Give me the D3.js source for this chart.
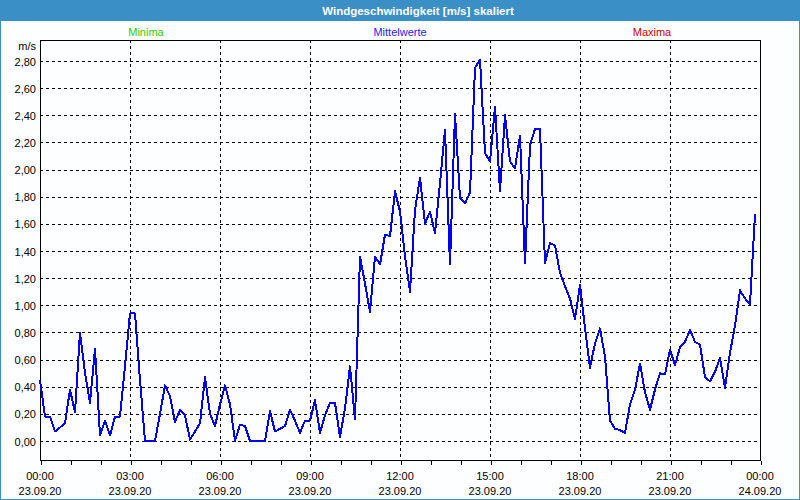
<!DOCTYPE html>
<html>
<head>
<meta charset="utf-8">
<script src="https://cdn.jsdelivr.net/npm/d3@7"></script>
<style>
  html, body { margin: 0; padding: 0; background: #fff; }
  svg { display: block; }
  text { font-family: "Liberation Sans", Arial, sans-serif; }
</style>
</head>
<body>
<svg id="chart" width="800" height="500"></svg>
<script>
// ---- Data (10-minute mean wind speed, m/s, 23.09.20 00:00 .. 23:50) ----
const stepMinutes = 10;
const meanValues = [
  0.45,0.18,0.18,0.07,0.10,0.13,
  0.38,0.21,0.80,0.50,0.28,0.68,
  0.04,0.15,0.04,0.18,0.18,0.55,
  0.94,0.94,0.45,0.00,0.00,0.00,
  0.20,0.41,0.33,0.14,0.23,0.19,
  0.01,0.07,0.13,0.47,0.20,0.11,
  0.27,0.41,0.27,0.00,0.12,0.11,
  0.00,0.00,0.00,0.00,0.22,0.07,
  0.09,0.11,0.23,0.15,0.06,0.15,
  0.15,0.30,0.06,0.19,0.28,0.28,
  0.03,0.24,0.55,0.16,1.36,1.16,
  0.95,1.36,1.30,1.52,1.51,1.84,
  1.69,1.36,1.10,1.70,1.94,1.60,
  1.69,1.53,1.90,2.29,1.30,2.41,
  1.79,1.75,1.83,2.75,2.81,2.12,
  2.06,2.46,1.84,2.40,2.06,2.01,
  2.25,1.31,2.18,2.30,2.30,1.31,
  1.46,1.44,1.24,1.14,1.05,0.90,
  1.15,0.83,0.54,0.72,0.83,0.62,
  0.15,0.09,0.08,0.06,0.27,0.38,
  0.57,0.36,0.23,0.38,0.50,0.49,
  0.67,0.56,0.69,0.73,0.82,0.73,
  0.71,0.47,0.44,0.51,0.61,0.39,
  0.65,0.85,1.11,1.05,1.01,1.67
];
const yTicks = [0,0.2,0.4,0.6,0.8,1.0,1.2,1.4,1.6,1.8,2.0,2.2,2.4,2.6,2.8];
const xTickHours = [0,3,6,9,12,15,18,21,24];
const xTimeLabels = ["00:00","03:00","06:00","09:00","12:00","15:00","18:00","21:00","00:00"];
const xDateLabels = ["23.09.20","23.09.20","23.09.20","23.09.20","23.09.20","23.09.20","23.09.20","23.09.20","24.09.20"];
const legendNames = ["Minima","Mittelwerte","Maxima"];
const legendColors = ["#2ecc00","#2222ff","#cc0000"];
const titleText = "Windgeschwindigkeit [m/s] skaliert";
const unitText = "m/s";

// ---- Layout ----
const W = 800, H = 500;
const plot = {left: 40, right: 760, top: 40, bottom: 460};

const svg = d3.select("#chart");
svg.append("rect").attr("x",0).attr("y",0).attr("width",W).attr("height",H).attr("fill","#fdfeff");
// window frame
svg.append("rect").attr("x",0.5).attr("y",0.5).attr("width",W-1).attr("height",H-1)
  .attr("fill","none").attr("stroke","#3b8fc7").attr("stroke-width",1);
// title bar
svg.append("rect").attr("x",0).attr("y",0).attr("width",W).attr("height",21).attr("fill","#3b8fc7");
svg.append("text").attr("x",418).attr("y",15).attr("text-anchor","middle")
  .attr("fill","#fff").attr("font-weight","bold").attr("font-size","11.5px").text(titleText);

// scales
const x = d3.scaleLinear().domain([0,24]).range([plot.left, plot.right]);
const y = d3.scaleLinear().domain([0,2.8]).range([441, 61]);

// legend
const legendX = [146, 400, 652];
legendNames.forEach((n,i) => {
  svg.append("text").attr("x",legendX[i]).attr("y",36).attr("text-anchor","middle")
    .attr("fill",legendColors[i]).attr("font-size","11px").text(n);
});

// horizontal grid
svg.append("g").selectAll("line").data(yTicks).join("line")
  .attr("x1",plot.left).attr("x2",plot.right)
  .attr("y1",d=>Math.round(y(d))+0.5).attr("y2",d=>Math.round(y(d))+0.5)
  .attr("stroke","#000").attr("stroke-dasharray","3,3").attr("shape-rendering","crispEdges");
// vertical grid
svg.append("g").selectAll("line").data(xTickHours.slice(1,-1)).join("line")
  .attr("x1",d=>Math.round(x(d))+0.5).attr("x2",d=>Math.round(x(d))+0.5)
  .attr("y1",plot.top).attr("y2",plot.bottom)
  .attr("stroke","#000").attr("stroke-dasharray","3,3").attr("shape-rendering","crispEdges");

// y axis labels
const yAxis = d3.axisLeft(y).tickValues(yTicks).tickSize(0).tickPadding(4)
  .tickFormat(d => d3.format(".2f")(d).replace(".", ","));
const gy = svg.append("g").attr("transform",`translate(${plot.left},0.5)`).call(yAxis);
gy.select(".domain").remove();
gy.selectAll("text").attr("font-size","11px").attr("fill","#000")
  .attr("font-family","'Liberation Sans', Arial, sans-serif");

svg.append("text").attr("x",36).attr("y",50).attr("text-anchor","end")
  .attr("font-size","11px").attr("fill","#000").text(unitText);

// x axis: hourly ticks, labels every 3h
const xAxis = d3.axisBottom(x).tickValues(d3.range(0,25,1)).tickSize(4).tickFormat("");
const gx = svg.append("g").attr("transform",`translate(0.5,${plot.bottom}.5)`).call(xAxis);
gx.select(".domain").remove();
gx.selectAll("line").attr("stroke","#000").attr("shape-rendering","crispEdges");

const lbl = svg.append("g");
xTickHours.forEach((h,i) => {
  lbl.append("text").attr("x",x(h)).attr("y",480).attr("text-anchor","middle")
    .attr("font-size","11px").attr("fill","#000").text(xTimeLabels[i]);
  lbl.append("text").attr("x",x(h)).attr("y",495).attr("text-anchor","middle")
    .attr("font-size","11px").attr("fill","#000").text(xDateLabels[i]);
});

// plot frame
svg.append("rect").attr("x",plot.left+0.5).attr("y",plot.top+0.5)
  .attr("width",plot.right-plot.left).attr("height",plot.bottom-plot.top)
  .attr("fill","none").attr("stroke","#000").attr("shape-rendering","crispEdges");

// data line
const line = d3.line()
  .x((d,i) => x(i*stepMinutes/60))
  .y(d => y(d));
svg.append("path").datum(meanValues).attr("d",line)
  .attr("fill","none").attr("stroke","#0000ee").attr("stroke-width",2)
  .attr("stroke-linejoin","round").attr("shape-rendering","crispEdges");
</script>
</body>
</html>
